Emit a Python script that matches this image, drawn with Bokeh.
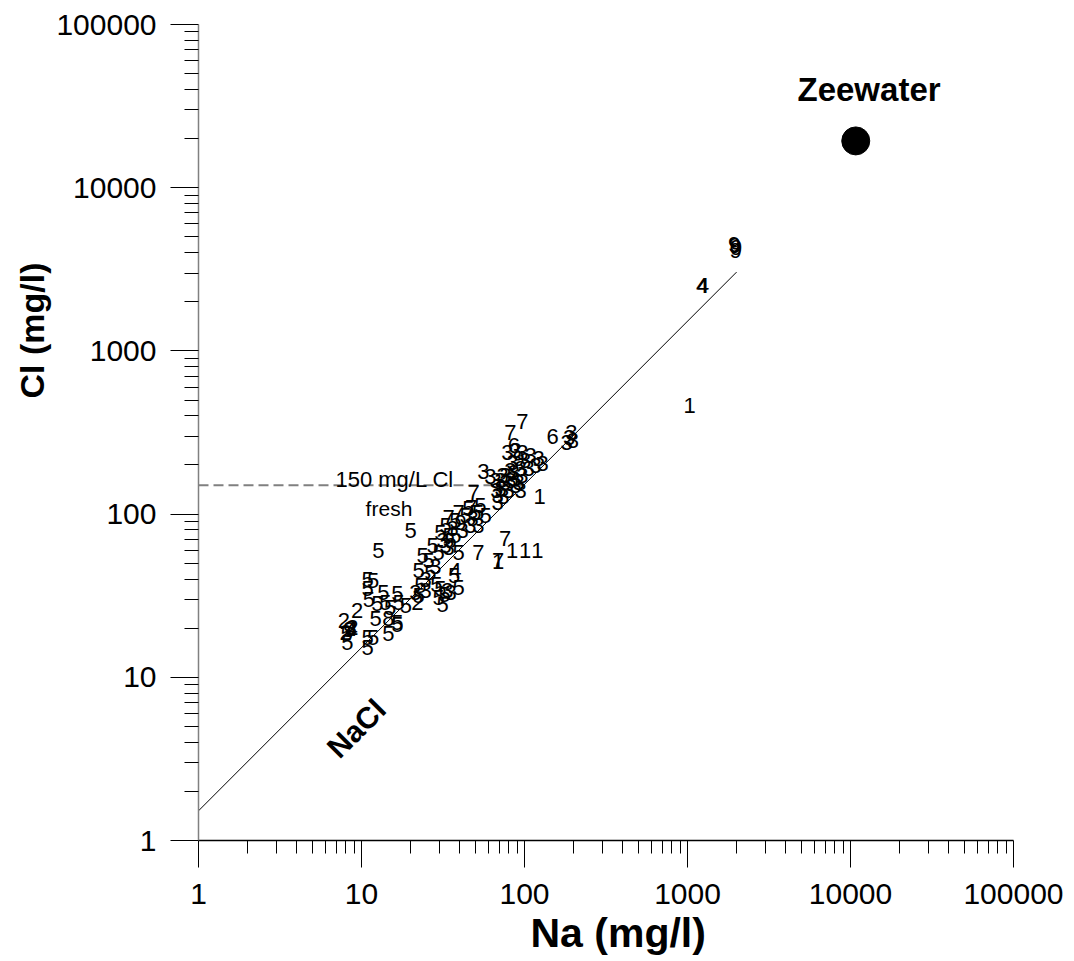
import math
from bokeh.plotting import figure
from bokeh.models import FixedTicker, CustomJSTickFormatter, Label, Title, ColumnDataSource
from bokeh.core.properties import value
from bokeh.embed import file_html
from bokeh.resources import INLINE

FONT = "Liberation Sans"

# ---- data -------------------------------------------------------------
grp = ['9', '9', '9', '9', '4', '4', '1',
       '7', '7', '6', '6', '3', '3', '3', '3', '1',
       '3', '3', '3', '3', '3', '3', '3', '3', '9', '3', '3', '3', '3', '3', '3', '3', '3', '3',
       '3', '3', '3', '3', '3', '3', '3', '3', '3', '3', '3', '3', '3', '3', '3',
       '7', '7', '5',
       '7', '3', '5', '7', '7', '7', '1', '1', '1', '1',
       '4', '5', '5', '5', '3', '5', '3', '5', '5', '5', '5',
       '5', '3', '5', '5', '5', '3', '5', '5', '5', '3', '5', '5', '5', '3', '5', '9', '7', '5',
       '5', '3', '5', '5', '3', '5', '3', '3', '5', '3', '3', '3', '5',
       '5', '5', '5', '5', '5', '2', '5', '5', '5', '5', '2', '5', '8', '5', '5',
       '2', '3', '2', '9', '4', '2', '5', '5', '5', '5', '5', '5', '5', '5', '5', '5']
na = [1950, 1990, 1930, 1970, 1230, 1245, 1030,
      97, 82, 86, 149, 194, 181, 198, 188, 124,
      78.6, 88.1, 97.2, 109, 122, 129, 117, 101, 91.9, 84.4, 106, 94.5, 82, 73.3, 66.4, 76.4, 84.4, 71.3,
      79.8, 88.1, 68.3, 97.2, 61.8, 56, 68.3, 67.3, 74.3, 82, 91.9, 76.4, 71.3, 94.5, 86,
      48.7, 47, 52,
      34.2, 34.2, 39.4, 52.2, 76, 69, 69, 84, 101, 120,
      37.7, 37, 39.4, 30.5, 33.6, 32.3, 35.2, 29.7, 31.4, 20, 12.7,
      23.0, 24.7, 22.4, 26.5, 25.8, 28.4, 23.7, 29.7, 27.3, 31.4, 30.5, 34.2, 32.8, 36.2, 37.7, 40.5, 39.4, 43.5,
      45.3, 48, 50, 53.7, 41.7, 35.2, 24.7, 21.4, 28.8, 32.8, 46.6, 52.2, 57.7, 37.7,
      10.9, 11.8, 10.9, 11.1, 9.4, 12.5, 14, 16.9, 18.7, 22, 12.2, 14.6, 16.6, 16.6, 7.8,
      8.6, 8.8, 8.4, 8.7, 8.0, 8.1, 8.2, 10.9, 11.8, 14.6, 10.9, 15, 16.6, 13.6, 22.4, 11.5]
cl = [4400, 4300, 4500, 4150, 2500, 2530, 460,
      369, 316, 263, 299, 316, 275, 282, 295, 128,
      238, 245, 238, 229, 219, 204, 199, 213, 219, 207, 190, 190, 185, 173, 161, 156, 165, 143,
      140, 150, 130, 173, 170, 182, 118, 140, 128, 161, 156, 173, 161, 140, 180,
      136, 110, 102,
      95, 62, 58, 58, 71, 52, 51, 60, 60, 60,
      45, 42, 35.5, 35, 34, 32, 33, 31, 28, 79, 60,
      36.5, 40, 45, 44, 52, 48, 56, 58, 64, 69, 77, 74, 85, 82, 91, 89, 102, 98,
      108, 94, 102, 113, 79, 69, 34, 33, 37, 64, 85, 85, 98, 74,
      40, 39, 35, 30, 25.7, 28.3, 28.6, 28.6, 27.5, 28.6, 22.9, 22.9, 21.7, 21.0, 22.3,
      19.9, 20.3, 19.5, 20.0, 18.8, 18.6, 16.3, 17.5, 17.5, 18.5, 15.2, 26.8, 32.7, 33, 31.6, 41]

seawater_na = [10770]
seawater_cl = [19350]

nacl_na = [1, 2000]
nacl_cl = [1.52, 3040]

fresh_na = [1, 97]
fresh_cl = [150, 150]

decades = [1, 10, 100, 1000, 10000, 100000]
minor = [m * d for d in decades[:-1] for m in range(2, 10)]

# ---- figure -----------------------------------------------------------
p = figure(x_axis_type="log", y_axis_type="log",
           x_range=(1, 100000), y_range=(1, 100000),
           frame_width=815, frame_height=816,
           min_border_left=198, min_border_right=61,
           min_border_top=24, min_border_bottom=121,
           output_backend="svg", toolbar_location=None,
           background_fill_color="white", border_fill_color="white")
p.outline_line_color = None
p.xgrid.visible = False
p.ygrid.visible = False

for ax, col in ((p.xaxis[0], "black"), (p.yaxis[0], "#808080")):
    ax.ticker = FixedTicker(ticks=decades, minor_ticks=minor)
    ax.formatter = CustomJSTickFormatter(code="return tick.toFixed(0);")
    ax.axis_line_color = col
    ax.axis_line_width = 1.5
    ax.major_tick_line_color = "black"
    ax.minor_tick_line_color = "black"
    ax.major_tick_in = 0
    ax.minor_tick_in = 0
    ax.major_label_text_font = FONT
    ax.major_label_text_font_size = "30px"
    ax.major_label_text_color = "black"

p.xaxis.major_label_standoff = 16
p.yaxis.major_label_standoff = 14
p.xaxis.major_tick_out = 27
p.xaxis.minor_tick_out = 13
p.yaxis.major_tick_out = 28
p.yaxis.minor_tick_out = 14

# NaCl reference line
p.line(nacl_na, nacl_cl, line_color="black", line_width=1)
# fresh limit
p.line(fresh_na, fresh_cl, line_color="#808080", line_width=2, line_dash="10 5")

# data labels (group numbers)
src = ColumnDataSource(dict(x=na, y=cl, t=grp))
p.text(x="x", y="y", text="t", source=src, text_align="center", text_baseline="middle",
       text_font=value(FONT), text_font_size="22px", text_color="black")

# seawater
p.scatter(seawater_na, seawater_cl, size=28, color="black")

p.add_layout(Label(x=6.92, y=163, text="150 mg/L Cl", text_font=FONT, text_font_size="22px",
                   text_align="left", text_baseline="alphabetic", text_color="black"))
p.add_layout(Label(x=10.6, y=108, text="fresh", text_font=FONT, text_font_size="21px",
                   text_align="left", text_baseline="alphabetic", text_color="black"))
p.add_layout(Label(x=4730, y=40000, text="Zeewater", text_font=FONT, text_font_size="33px",
                   text_font_style="bold", text_align="left", text_baseline="alphabetic",
                   text_color="black"))
p.add_layout(Label(x=9.3, y=4.86, text="NaCl", text_font=FONT, text_font_size="30px",
                   text_font_style="bold", text_align="center", text_baseline="middle",
                   angle=math.pi / 4, text_color="black"))

# axis titles
p.add_layout(Title(text="Na (mg/l)", align="left", offset=332, standoff=2,
                   text_font=FONT, text_font_size="41px", text_font_style="bold",
                   text_color="black"), "below")
p.add_layout(Title(text="Cl (mg/l)", align="left", offset=442, standoff=6,
                   text_font=FONT, text_font_size="34px", text_font_style="bold",
                   text_color="black"), "left")

open("out.html", "w").write(file_html(p, INLINE))
